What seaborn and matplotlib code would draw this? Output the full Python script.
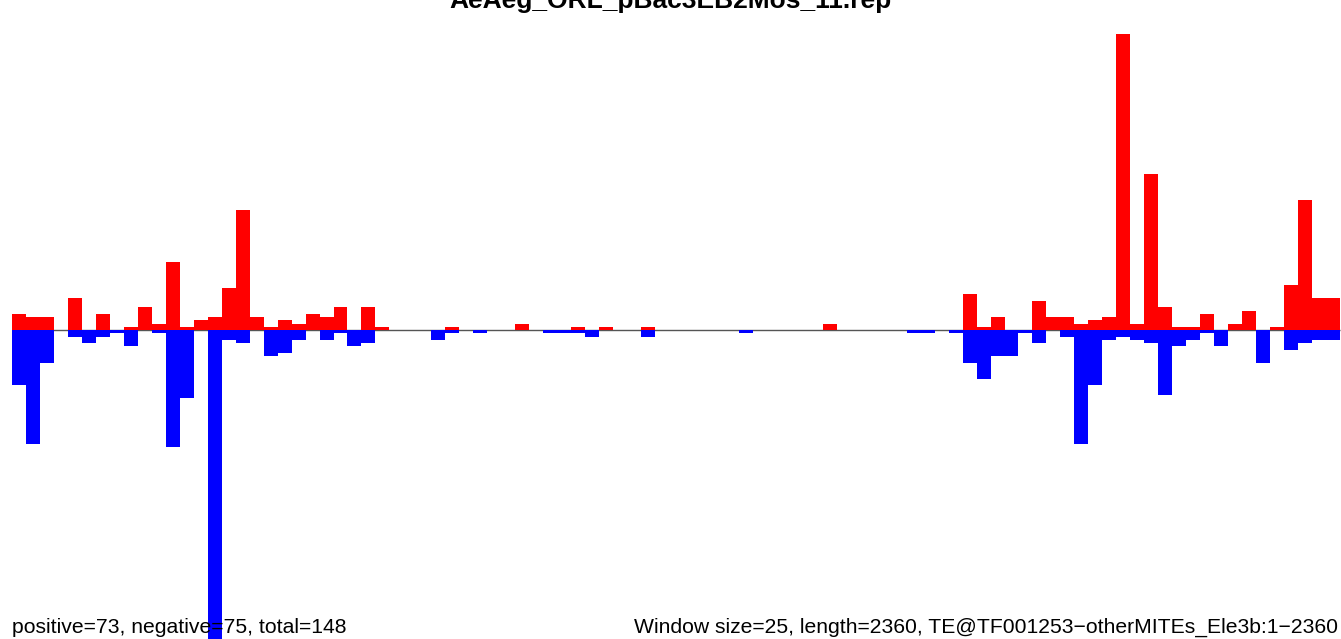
import numpy as np
import pandas as pd
import matplotlib
matplotlib.use("Agg")
import matplotlib.pyplot as plt
import seaborn as sns

title = "AeAeg_ORL_pBac3EB2Mos_11.rep"
left_note = "positive=73, negative=75, total=148"
right_note = "Window size=25, length=2360, TE@TF001253\u2212otherMITEs_Ele3b:1\u22122360"

# counts per 25 bp window (95 windows)
positive = [5, 4, 4, 0, 10, 0, 5, 0, 1, 7,
            2, 21, 1, 3, 4, 13, 37, 4, 1, 3,
            2, 5, 4, 7, 0, 7, 1, 0, 0, 0,
            0, 1, 0, 0, 0, 0, 2, 0, 0, 0,
            1, 0, 1, 0, 0, 1, 0, 0, 0, 0,
            0, 0, 0, 0, 0, 0, 0, 0, 2, 0,
            0, 0, 0, 0, 0, 0, 0, 0, 11, 1,
            4, 0, 0, 9, 4, 4, 2, 3, 4, 91,
            2, 48, 7, 1, 1, 5, 0, 2, 6, 0,
            1, 14, 40, 10, 10]
negative = [17, 35, 10, 0, 2, 4, 2, 1, 5, 0,
            1, 36, 21, 0, 98, 3, 4, 0, 8, 7,
            3, 0, 3, 1, 5, 4, 0, 0, 0, 0,
            3, 1, 0, 1, 0, 0, 0, 0, 1, 1,
            1, 2, 0, 0, 0, 2, 0, 0, 0, 0,
            0, 0, 1, 0, 0, 0, 0, 0, 0, 0,
            0, 0, 0, 0, 1, 1, 0, 1, 10, 15,
            8, 8, 1, 4, 0, 2, 35, 17, 3, 2,
            3, 4, 20, 5, 3, 1, 5, 0, 0, 10,
            0, 6, 4, 3, 3]

df = pd.DataFrame({"window": np.arange(len(positive)),
                   "pos": positive,
                   "neg": [-v for v in negative]})

plt.rcParams["font.family"] = ["Liberation Sans", "DejaVu Sans"]
fig = plt.figure(figsize=(13.41, 6.39), dpi=100)
ax = fig.add_axes([0, 0, 1, 1])

n = len(df)
ax.hlines(0, -0.5, n - 0.5, color="#555555", lw=1, zorder=0)
sns.barplot(data=df, x="window", y="pos", color="#ff0000", width=1,
            saturation=1, linewidth=0, errorbar=None, ax=ax, zorder=2)
sns.barplot(data=df, x="window", y="neg", color="#0000ff", width=1,
            saturation=1, linewidth=0, errorbar=None, ax=ax, zorder=2)

bw = 1328 / n
ax.set_xlim(-0.5 - 12 / bw, n - 0.5 + 1 / bw)
ax.set_ylim(-309 / 3.25, 330 / 3.25)
ax.axis("off")

# title sits partly above the top edge, as in the original
fig.text(0.5, 1 - 8 / 639, title, ha="center", va="baseline",
         fontsize=19, fontweight="bold")
fig.text(12 / 1341, 6 / 639, left_note, ha="left", va="baseline", fontsize=15.2)
fig.text(1338 / 1341, 6 / 639, right_note, ha="right", va="baseline", fontsize=15.2)

fig.savefig("out.png", dpi=100)
